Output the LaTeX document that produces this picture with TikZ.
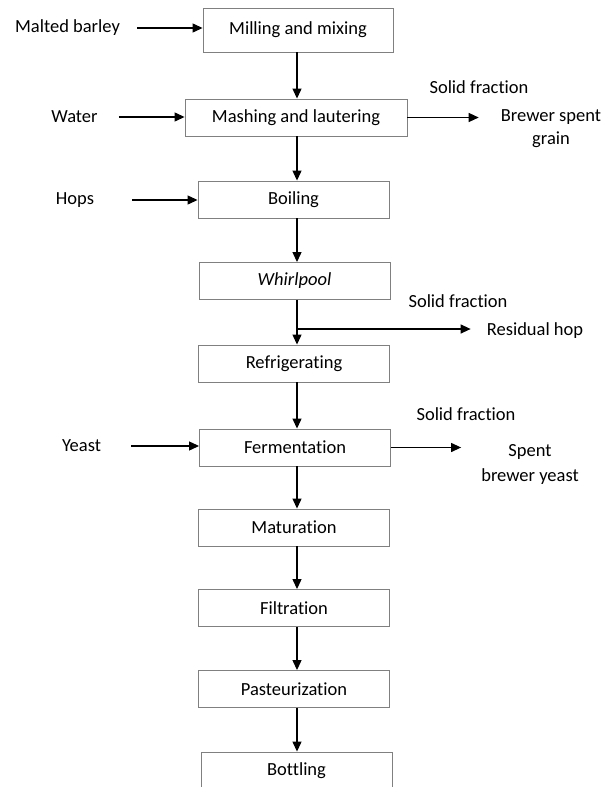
\documentclass[tikz,border=0pt]{standalone}
\usepackage{fontspec}
\setmainfont{Carlito}[Ligatures=NoCommon]
\usetikzlibrary{positioning, arrows.meta}

\tikzset{
  stage/.style={rectangle, draw=black!50, line width=0.9pt,
      minimum width=191pt, minimum height=37pt, inner sep=0pt},
  sidetext/.style={inner sep=0pt, align=center},
  flow/.style={-{Triangle[length=10pt, width=9pt]}, line width=1.2pt}
}

\begin{document}
\begin{tikzpicture}[x=1pt, y=-1pt, font=\fontsize{18.5}{23}\selectfont]
\useasboundingbox (0,0) rectangle (612,787);
\clip (0,0) rectangle (612,787);

% Process stages
\node[stage, minimum width=190pt, minimum height=44pt] (mill) at (298,30) {Milling and mixing};
\node[stage, minimum width=222pt] (mash) at (296,117.5) {Mashing and lautering};
\node[stage] (boil) at (293.5,199.5) {Boiling};
\node[stage] (whirl) at (294.5,281) {\itshape Whirlpool};
\node[stage] (refrig) at (294,363.5) {Refrigerating};
\node[stage] (ferm) at (295,447.5) {Fermentation};
\node[stage] (matur) at (294,527.5) {Maturation};
\node[stage] (filtr) at (294,608) {Filtration};
\node[stage] (pasteur) at (294,689) {Pasteurization};
\node[stage] (bottl) at (296.5,770.5) {Bottling};

% Main line
\coordinate (axis) at (297,0);
\foreach \a/\b in {mill/mash, mash/boil, boil/whirl, whirl/refrig, refrig/ferm,
                   ferm/matur, matur/filtr, filtr/pasteur, pasteur/bottl}
  \draw[flow] (\a.south -| axis) -- (\b.north -| axis);

% Inputs
\node[sidetext] (malt) at (67.5,28) {Malted barley};
\node[sidetext] (water) at (74.5,117) {Water};
\node[sidetext] (hops) at (75,200) {Hops};
\node[sidetext] (yeast) at (81.5,446) {Yeast};

\draw[flow, shorten <=17pt] (malt.east) -- (malt.east -| mill.west);
\draw[flow, shorten <=21pt] (water.east) -- (water.east -| mash.west);
\draw[flow, shorten <=38pt] (hops.east) -- (hops.east -| boil.west);
\draw[flow, shorten <=30pt] (yeast.east) -- (yeast.east -| ferm.west);

% Outputs
\node[sidetext] (sf1) at (479,87) {Solid fraction};
\node[sidetext, font=\fontsize{18.5}{23}\selectfont] (bsg) at (551,129) {Brewer spent\\grain};
\draw[flow, shorten >=22pt] (mash.east) -- (mash.east -| bsg.west);

\node[sidetext] (sf2) at (458,301) {Solid fraction};
\coordinate (split) at (297,329);
\node[sidetext] (resid) at (535,331) {Residual hop};
\draw[flow, shorten >=16pt] (split) -- (split -| resid.west);

\node[sidetext] (sf3) at (466,414) {Solid fraction};
\node[sidetext, font=\fontsize{18.5}{25}\selectfont] (sby) at (530,464) {Spent\\brewer yeast};
\draw[flow, shorten >=20pt] (ferm.east) -- (ferm.east -| sby.west);

\end{tikzpicture}
\end{document}
